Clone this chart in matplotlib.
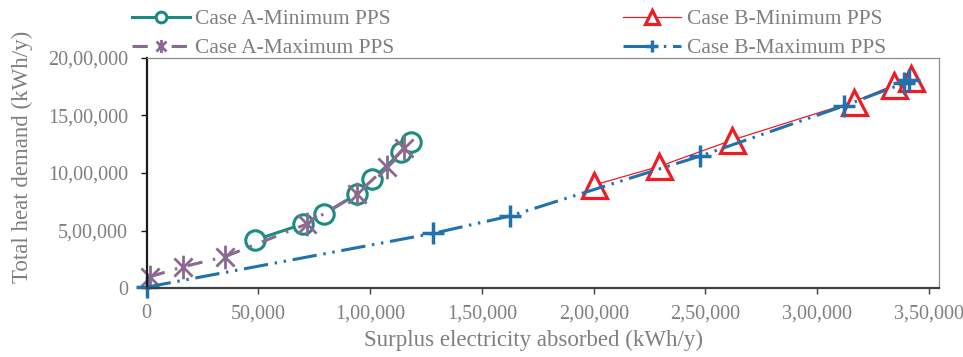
import numpy as np
import matplotlib
matplotlib.use("Agg")
import matplotlib.pyplot as plt
from matplotlib.path import Path

# values
a_min_x = [48500, 70100, 79500, 94000, 101000, 113800, 118200]
a_min_y = [418500, 557200, 643800, 817100, 944500, 1178400, 1270300]

a_max_x = [1500, 16400, 35000, 71600, 94000, 107400, 114900]
a_max_y = [100500, 187200, 273800, 557200, 817100, 1053700, 1213100]

b_min_x = [200200, 229400, 262000, 316300, 334400, 342100]
b_min_y = [895100, 1057000, 1285000, 1617000, 1761600, 1824000]

b_max_x = [0, 128300, 162600, 247700, 311800, 338700, 340900]
b_max_y = [10000, 476600, 626500, 1146400, 1579600, 1776300, 1805000]

x_ticks = [0, 50000, 100000, 150000, 200000, 250000, 300000, 350000]
x_tick_labels = ['0', '50,000', '1,00,000', '1,50,000', '2,00,000',
                 '2,50,000', '3,00,000', '3,50,000']
y_ticks = [0, 500000, 1000000, 1500000, 2000000]
y_tick_labels = ['0', '5,00,000', '10,00,000', '15,00,000', '20,00,000']

TEXT = '#7f7f7f'
plt.rcParams['font.family'] = ['Liberation Serif', 'DejaVu Serif']
plt.rcParams['font.size'] = 14.5

# Excel-like "star" marker: an X with a vertical bar
star = Path([(-1, -1), (1, 1), (-1, 1), (1, -1), (0, -1.3), (0, 1.3)],
            [Path.MOVETO, Path.LINETO, Path.MOVETO, Path.LINETO,
             Path.MOVETO, Path.LINETO])

fig = plt.figure(figsize=(9.63, 3.57), dpi=100)
ax = fig.add_axes([146.7 / 963, 1 - 288.3 / 357,
                   (939.3 - 146.7) / 963, (288.3 - 57.5) / 357])

ax.plot(a_min_x, a_min_y, color='#1c8c80', lw=2.2, marker='o', ms=14,
        mfc='white', mec='#1c8c80', mew=2.2, label='Case A-Minimum PPS',
        clip_on=False)
ax.plot(a_max_x, a_max_y, color='#8a6a90', lw=2.2, ls=(0, (5, 3.5, 0.8, 3.5)),
        marker=star, ms=17, mec='#8a6a90', mew=2, label='Case A-Maximum PPS',
        clip_on=False)
ax.plot(b_min_x, b_min_y, color='#ee1c25', lw=0.9, marker='^', ms=18,
        mfc='white', mec='#ee1c25', mew=2.3, label='Case B-Minimum PPS',
        clip_on=False)
ax.plot(b_max_x, b_max_y, color='#1f72ad', lw=2.2,
        ls=(0, (8, 2.2, 0.8, 2.2, 0.8, 2.2)), marker='+', ms=16, mew=2.5,
        label='Case B-Maximum PPS', clip_on=False)

ax.set_xlim(0, 354600)
ax.set_ylim(0, 2000000)
ax.set_xticks(x_ticks)
ax.set_xticklabels(x_tick_labels)
ax.set_yticks(y_ticks)
ax.set_yticklabels(y_tick_labels)

ax.tick_params(axis='x', direction='out', length=4.5, width=1, color='#404040',
               labelcolor=TEXT, pad=7)
ax.tick_params(axis='y', direction='out', length=4.5, width=1, color='#1a1a1a',
               labelcolor=TEXT, pad=9)

ax.spines['left'].set_color('#1a1a1a')
ax.spines['left'].set_linewidth(1.6)
ax.spines['bottom'].set_color('#404040')
ax.spines['bottom'].set_linewidth(1.6)
for s in ['top', 'right']:
    ax.spines[s].set_color('#8c8c8c')
    ax.spines[s].set_linewidth(0.9)

fig.text(533 / 963, 1 - 340 / 357, 'Surplus electricity absorbed (kWh/y)',
         ha='center', va='center', color=TEXT, fontsize=16.5)
fig.text(22 / 963, 1 - 157 / 357, 'Total heat demand (kWh/y)', rotation=90,
         ha='center', va='center', color=TEXT, fontsize=16.5)

handles, labels = ax.get_legend_handles_labels()
leg_kw = dict(loc='upper left', frameon=False, borderpad=0, borderaxespad=0,
              handlelength=2.7, handletextpad=0.25, labelspacing=0.42,
              markerscale=0.55, labelcolor=TEXT, fontsize=15.5)
fig.legend(handles[:2], labels[:2], bbox_to_anchor=(131.7 / 963, 1 - 9 / 357),
           **leg_kw)
fig.legend(handles[2:], labels[2:], bbox_to_anchor=(623 / 963, 1 - 9 / 357),
           **leg_kw)

fig.savefig('out.png', dpi=100)
